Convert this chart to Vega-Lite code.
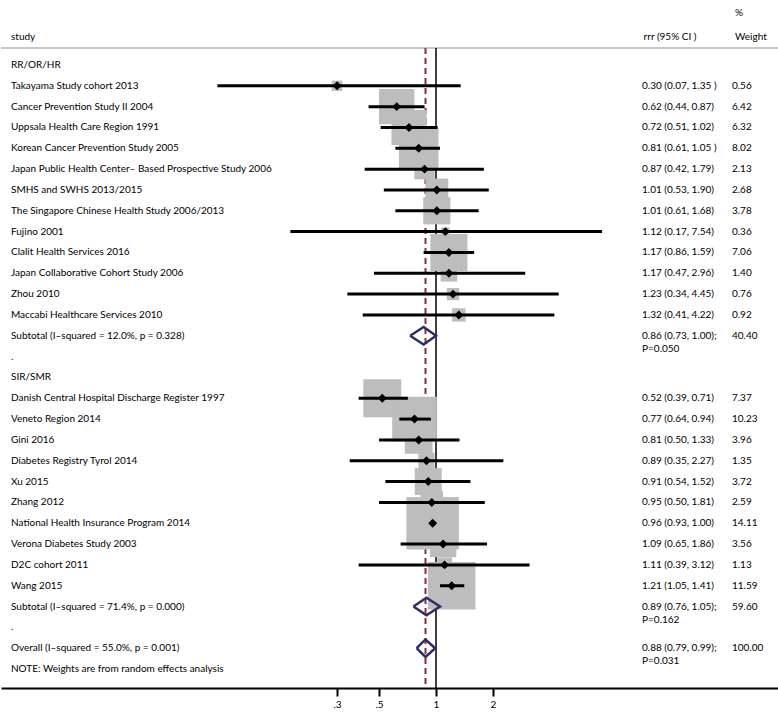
{
  "$schema": "https://vega.github.io/schema/vega-lite/v6.json",
  "width": 778,
  "height": 688,
  "padding": 0,
  "autosize": {"type": "pad"},
  "background": "white",
  "config": {
    "view": {"stroke": null},
    "text": {"font": "Lato", "fontSize": 10, "color": "black"}
  },
  "data": {
    "values": [
      {"row": 0, "kind": "group", "label": "RR/OR/HR"},
      {"row": 1, "kind": "study", "label": "Takayama Study cohort 2013", "est": 0.30, "lo": 0.07, "hi": 1.35, "weight": 0.56, "ci": "0.30 (0.07, 1.35 )"},
      {"row": 2, "kind": "study", "label": "Cancer Prevention Study II 2004", "est": 0.62, "lo": 0.44, "hi": 0.87, "weight": 6.42, "ci": "0.62 (0.44, 0.87)"},
      {"row": 3, "kind": "study", "label": "Uppsala Health Care Region 1991", "est": 0.72, "lo": 0.51, "hi": 1.02, "weight": 6.32, "ci": "0.72 (0.51, 1.02)"},
      {"row": 4, "kind": "study", "label": "Korean Cancer Prevention Study 2005", "est": 0.81, "lo": 0.61, "hi": 1.05, "weight": 8.02, "ci": "0.81 (0.61, 1.05 )"},
      {"row": 5, "kind": "study", "label": "Japan Public Health Center– Based Prospective Study 2006", "est": 0.87, "lo": 0.42, "hi": 1.79, "weight": 2.13, "ci": "0.87 (0.42, 1.79)"},
      {"row": 6, "kind": "study", "label": "SMHS and SWHS 2013/2015", "est": 1.01, "lo": 0.53, "hi": 1.90, "weight": 2.68, "ci": "1.01 (0.53, 1.90)"},
      {"row": 7, "kind": "study", "label": "The Singapore Chinese Health Study 2006/2013", "est": 1.01, "lo": 0.61, "hi": 1.68, "weight": 3.78, "ci": "1.01 (0.61, 1.68)"},
      {"row": 8, "kind": "study", "label": "Fujino 2001", "est": 1.12, "lo": 0.17, "hi": 7.54, "weight": 0.36, "ci": "1.12 (0.17, 7.54)"},
      {"row": 9, "kind": "study", "label": "Clalit Health Services 2016", "est": 1.17, "lo": 0.86, "hi": 1.59, "weight": 7.06, "ci": "1.17 (0.86, 1.59)"},
      {"row": 10, "kind": "study", "label": "Japan Collaborative Cohort Study 2006", "est": 1.17, "lo": 0.47, "hi": 2.96, "weight": 1.40, "ci": "1.17 (0.47, 2.96)"},
      {"row": 11, "kind": "study", "label": "Zhou 2010", "est": 1.23, "lo": 0.34, "hi": 4.45, "weight": 0.76, "ci": "1.23 (0.34, 4.45)"},
      {"row": 12, "kind": "study", "label": "Maccabi Healthcare Services 2010", "est": 1.32, "lo": 0.41, "hi": 4.22, "weight": 0.92, "ci": "1.32 (0.41, 4.22)"},
      {"row": 13, "kind": "summary", "label": "Subtotal  (I–squared = 12.0%, p = 0.328)", "est": 0.86, "lo": 0.73, "hi": 1.00, "weight": 40.40, "ci": "0.86 (0.73, 1.00);", "p": "P=0.050"},
      {"row": 14, "kind": "group", "label": "."},
      {"row": 15, "kind": "group", "label": "SIR/SMR"},
      {"row": 16, "kind": "study", "label": "Danish Central Hospital Discharge Register 1997", "est": 0.52, "lo": 0.39, "hi": 0.71, "weight": 7.37, "ci": "0.52 (0.39, 0.71)"},
      {"row": 17, "kind": "study", "label": "Veneto Region 2014", "est": 0.77, "lo": 0.64, "hi": 0.94, "weight": 10.23, "ci": "0.77 (0.64, 0.94)"},
      {"row": 18, "kind": "study", "label": "Gini 2016", "est": 0.81, "lo": 0.50, "hi": 1.33, "weight": 3.96, "ci": "0.81 (0.50, 1.33)"},
      {"row": 19, "kind": "study", "label": "Diabetes Registry Tyrol 2014", "est": 0.89, "lo": 0.35, "hi": 2.27, "weight": 1.35, "ci": "0.89 (0.35, 2.27)"},
      {"row": 20, "kind": "study", "label": "Xu 2015", "est": 0.91, "lo": 0.54, "hi": 1.52, "weight": 3.72, "ci": "0.91 (0.54, 1.52)"},
      {"row": 21, "kind": "study", "label": "Zhang 2012", "est": 0.95, "lo": 0.50, "hi": 1.81, "weight": 2.59, "ci": "0.95 (0.50, 1.81)"},
      {"row": 22, "kind": "study", "label": "National Health Insurance Program 2014", "est": 0.96, "lo": 0.93, "hi": 1.00, "weight": 14.11, "ci": "0.96 (0.93, 1.00)"},
      {"row": 23, "kind": "study", "label": "Verona Diabetes Study 2003", "est": 1.09, "lo": 0.65, "hi": 1.86, "weight": 3.56, "ci": "1.09 (0.65, 1.86)"},
      {"row": 24, "kind": "study", "label": "D2C cohort 2011", "est": 1.11, "lo": 0.39, "hi": 3.12, "weight": 1.13, "ci": "1.11 (0.39, 3.12)"},
      {"row": 25, "kind": "study", "label": "Wang 2015", "est": 1.21, "lo": 1.05, "hi": 1.41, "weight": 11.59, "ci": "1.21 (1.05, 1.41)"},
      {"row": 26, "kind": "summary", "label": "Subtotal  (I–squared = 71.4%, p = 0.000)", "est": 0.89, "lo": 0.76, "hi": 1.05, "weight": 59.60, "ci": "0.89 (0.76, 1.05);", "p": "P=0.162"},
      {"row": 27, "kind": "group", "label": "."},
      {"row": 28, "kind": "summary", "label": "Overall  (I–squared = 55.0%, p = 0.001)", "est": 0.88, "lo": 0.79, "hi": 0.99, "weight": 100.00, "ci": "0.88 (0.79, 0.99);", "p": "P=0.031"},
      {"row": 29, "kind": "note", "label": "NOTE: Weights are from random effects analysis"}
    ]
  },
  "layer": [
    {
      "data": {"values": [{}]},
      "mark": {"type": "rule", "color": "#c8c8c8", "strokeWidth": 2},
      "encoding": {
        "y": {"datum": -0.82, "type": "quantitative", "scale": {"domain": [-3.12, 29.91], "reverse": true, "nice": false, "zero": false}, "axis": null},
        "x": {"datum": 0.00503, "type": "quantitative", "scale": {"type": "log", "domain": [0.00503, 64.9], "nice": false},
          "axis": {"values": [0.3, 0.5, 1, 2], "labelExpr": "datum.value == 0.3 ? '.3' : datum.value == 0.5 ? '.5' : datum.label", "grid": false, "title": null, "domainColor": "black", "domainWidth": 2, "tickColor": "black", "tickWidth": 2, "tickSize": 8, "labelFont": "Lato", "labelFontSize": 10, "labelColor": "black", "labelPadding": 3}},
        "x2": {"datum": 64.9}
      }
    },
    {
      "data": {"values": [{}]},
      "mark": {"type": "rule", "color": "#8c2d3c", "strokeWidth": 2, "strokeDash": [6, 4]},
      "encoding": {
        "x": {"datum": 0.88, "type": "quantitative"},
        "y": {"datum": -0.82, "type": "quantitative"},
        "y2": {"datum": 29.91}
      }
    },
    {
      "data": {"values": [{}]},
      "mark": {"type": "rule", "color": "black", "strokeWidth": 1.5},
      "encoding": {
        "x": {"datum": 1, "type": "quantitative"},
        "y": {"datum": -0.82, "type": "quantitative"},
        "y2": {"datum": 29.91}
      }
    },
    {
      "transform": [{"filter": "datum.kind == 'study'"}],
      "mark": {"type": "point", "shape": "square", "filled": true, "color": "#bdbdbd", "opacity": 1, "strokeWidth": 0},
      "encoding": {
        "x": {"field": "est", "type": "quantitative"},
        "y": {"field": "row", "type": "quantitative"},
        "size": {"field": "weight", "type": "quantitative", "scale": {"type": "linear", "domain": [0, 10], "range": [0, 1950], "zero": true}, "legend": null}
      }
    },
    {
      "transform": [{"filter": "datum.kind == 'study'"}],
      "mark": {"type": "rule", "color": "black", "strokeWidth": 3},
      "encoding": {
        "x": {"field": "lo", "type": "quantitative"},
        "x2": {"field": "hi"},
        "y": {"field": "row", "type": "quantitative"}
      }
    },
    {
      "transform": [{"filter": "datum.kind == 'study'"}],
      "mark": {"type": "point", "shape": "diamond", "filled": true, "color": "black", "opacity": 1, "size": 80},
      "encoding": {
        "x": {"field": "est", "type": "quantitative"},
        "y": {"field": "row", "type": "quantitative"}
      }
    },
    {
      "transform": [
        {"filter": "datum.kind == 'summary'"},
        {"calculate": "[{x: datum.lo, d: 0, o: 0}, {x: datum.est, d: -1, o: 1}, {x: datum.hi, d: 0, o: 2}, {x: datum.est, d: 1, o: 3}, {x: datum.lo, d: 0, o: 4}]", "as": "verts"},
        {"flatten": ["verts"]},
        {"calculate": "datum.verts.x", "as": "vx"},
        {"calculate": "datum.row + 0.42 * datum.verts.d", "as": "vy"},
        {"calculate": "datum.verts.o", "as": "vo"}
      ],
      "mark": {"type": "line", "color": "#2e2e63", "strokeWidth": 2.5, "strokeJoin": "miter"},
      "encoding": {
        "x": {"field": "vx", "type": "quantitative"},
        "y": {"field": "vy", "type": "quantitative"},
        "order": {"field": "vo", "type": "quantitative"},
        "detail": {"field": "row", "type": "nominal"}
      }
    },
    {
      "mark": {"type": "text", "align": "left", "baseline": "middle"},
      "encoding": {
        "x": {"datum": 0.00568, "type": "quantitative"},
        "y": {"field": "row", "type": "quantitative"},
        "text": {"field": "label", "type": "nominal"}
      }
    },
    {
      "transform": [{"filter": "isValid(datum.ci)"}],
      "mark": {"type": "text", "align": "left", "baseline": "middle"},
      "encoding": {
        "x": {"datum": 12.26, "type": "quantitative"},
        "y": {"field": "row", "type": "quantitative"},
        "text": {"field": "ci", "type": "nominal"}
      }
    },
    {
      "transform": [{"filter": "isValid(datum.p)"}],
      "mark": {"type": "text", "align": "left", "baseline": "middle", "dy": 13},
      "encoding": {
        "x": {"datum": 12.26, "type": "quantitative"},
        "y": {"field": "row", "type": "quantitative"},
        "text": {"field": "p", "type": "nominal"}
      }
    },
    {
      "transform": [{"filter": "isValid(datum.weight)"}],
      "mark": {"type": "text", "align": "left", "baseline": "middle"},
      "encoding": {
        "x": {"datum": 36.6, "type": "quantitative"},
        "y": {"field": "row", "type": "quantitative"},
        "text": {"field": "weight", "type": "quantitative", "format": ".2f"}
      }
    },
    {
      "data": {"values": [{}]},
      "mark": {"type": "text", "align": "left", "baseline": "middle", "text": "study"},
      "encoding": {
        "x": {"datum": 0.00568, "type": "quantitative"},
        "y": {"datum": -1.34, "type": "quantitative"}
      }
    },
    {
      "data": {"values": [{}]},
      "mark": {"type": "text", "align": "left", "baseline": "middle", "text": "rrr (95% CI )"},
      "encoding": {
        "x": {"datum": 12.5, "type": "quantitative"},
        "y": {"datum": -1.34, "type": "quantitative"}
      }
    },
    {
      "data": {"values": [{}]},
      "mark": {"type": "text", "align": "left", "baseline": "middle", "text": "Weight"},
      "encoding": {
        "x": {"datum": 38.0, "type": "quantitative"},
        "y": {"datum": -1.34, "type": "quantitative"}
      }
    },
    {
      "data": {"values": [{}]},
      "mark": {"type": "text", "align": "left", "baseline": "middle", "text": "%"},
      "encoding": {
        "x": {"datum": 38.0, "type": "quantitative"},
        "y": {"datum": -2.5, "type": "quantitative"}
      }
    }
  ]
}
